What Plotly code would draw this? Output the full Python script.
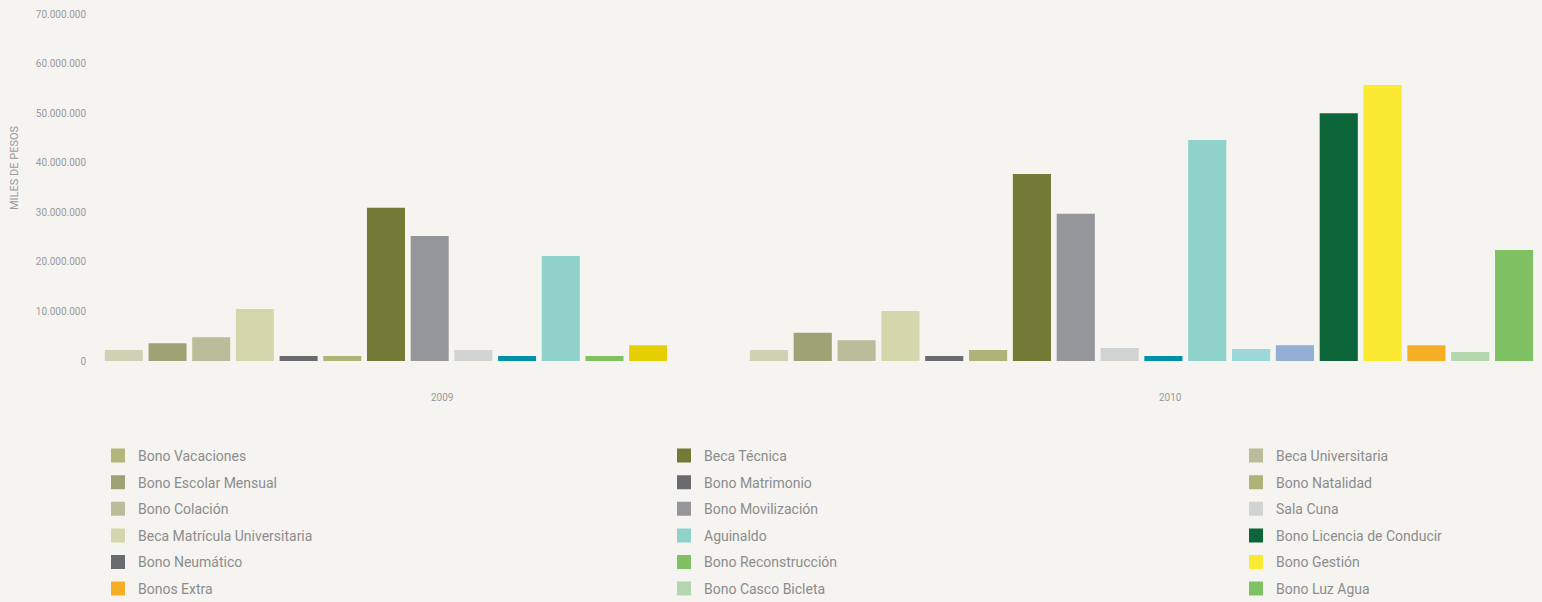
import plotly.graph_objects as go

# ---- data ----
years = ["2009", "2010"]

bars_2009 = ["Bono Vacaciones", "Bono Escolar Mensual", "Bono Colación", "Beca Matrícula Universitaria",
             "Bono Neumático", "Bono Natalidad", "Beca Técnica", "Bono Movilización", "Sala Cuna",
             "Bono Matrimonio", "Aguinaldo", "Bono Reconstrucción", "Bonos Extra"]
values_2009 = [2.2e6, 3.6e6, 4.8e6, 10.5e6, 1.0e6, 1.0e6, 30.9e6, 25.2e6, 2.2e6, 1.0e6, 21.2e6, 1.0e6, 3.2e6]
colors_2009 = ["#cfd0b4", "#9da374", "#b9bd9a", "#d4d7ac", "#6a6b6e", "#b0b378", "#727a35", "#959699",
               "#d1d2d2", "#0090a8", "#8fd2ca", "#7fc163", "#e6cf00"]

bars_2010 = ["Bono Vacaciones", "Bono Escolar Mensual", "Bono Colación", "Beca Matrícula Universitaria",
             "Bono Neumático", "Bono Natalidad", "Beca Técnica", "Bono Movilización", "Sala Cuna",
             "Bono Matrimonio", "Aguinaldo", "Beca Universitaria", "Bono Reconstrucción",
             "Bono Licencia de Conducir", "Bono Gestión", "Bonos Extra", "Bono Casco Bicleta", "Bono Luz Agua"]
values_2010 = [2.2e6, 5.7e6, 4.2e6, 10.1e6, 1.0e6, 2.2e6, 37.7e6, 29.7e6, 2.6e6, 1.0e6, 44.6e6, 2.4e6, 3.2e6,
               50.0e6, 55.7e6, 3.2e6, 1.8e6, 22.4e6]
colors_2010 = ["#cfd0b4", "#9da374", "#b9bd9a", "#d4d7ac", "#6a6b6e", "#b0b378", "#727a35", "#959699",
               "#d1d2d2", "#0090a8", "#8fd2ca", "#9cd8d9", "#93afd6", "#0d6639", "#faea32", "#f6ae24",
               "#b2d7af", "#7fc163"]

legend_col1 = ["Bono Vacaciones", "Bono Escolar Mensual", "Bono Colación", "Beca Matrícula Universitaria",
               "Bono Neumático", "Bonos Extra"]
legend_col1_colors = ["#b2b67a", "#9da374", "#b9bd9a", "#d4d7ac", "#6a6b6e", "#f6ae24"]
legend_col2 = ["Beca Técnica", "Bono Matrimonio", "Bono Movilización", "Aguinaldo",
               "Bono Reconstrucción", "Bono Casco Bicleta"]
legend_col2_colors = ["#727a35", "#6a6b6e", "#959699", "#8fd2ca", "#7fc163", "#b2d7af"]
legend_col3 = ["Beca Universitaria", "Bono Natalidad", "Sala Cuna", "Bono Licencia de Conducir",
               "Bono Gestión", "Bono Luz Agua"]
legend_col3_colors = ["#b9bd9a", "#b0b378", "#d1d2d2", "#0d6639", "#faea32", "#7fc163"]

y_ticks = [0, 10e6, 20e6, 30e6, 40e6, 50e6, 60e6, 70e6]

# ---- figure ----
BG = "#f5f4f0"
GREY = "#8c8c8c"
TICKGREY = "#9a9a9a"
FONT = "Roboto"
W, H = 1542, 602
ML, MR, MT, MB = 95, 6, 14, 241
PW, PH = W - ML - MR, H - MT - MB


def px_x(p):
    return (p - ML) / PW


def px_y(p):
    return (H - MB - p) / PH


fig = go.Figure()
fig.add_trace(go.Bar(x=bars_2009, y=values_2009, marker=dict(color=colors_2009, line=dict(width=0)),
                     xaxis="x", yaxis="y", showlegend=False, name="2009"))
fig.add_trace(go.Bar(x=bars_2010, y=values_2010, marker=dict(color=colors_2010, line=dict(width=0)),
                     xaxis="x2", yaxis="y", showlegend=False, name="2010"))

for leg, names, cols in [("legend", legend_col1, legend_col1_colors),
                         ("legend2", legend_col2, legend_col2_colors),
                         ("legend3", legend_col3, legend_col3_colors)]:
    for n, c in zip(names, cols):
        fig.add_trace(go.Bar(x=[None], y=[None], name=n, marker=dict(color=c, line=dict(color=c, width=2)),
                             legend=leg, legendgroup=n, showlegend=True, xaxis="x", yaxis="y"))

legend_common = dict(orientation="v", bgcolor="rgba(0,0,0,0)", font=dict(family=FONT, size=14, color=GREY),
                     tracegroupgap=5.4, yanchor="top", xanchor="left", y=px_y(440), traceorder="grouped")

fig.update_layout(
    width=W, height=H, autosize=False,
    paper_bgcolor=BG, plot_bgcolor=BG,
    margin=dict(l=ML, r=MR, t=MT, b=MB, autoexpand=False),
    separators=",.",
    bargap=0.13,
    font=dict(family=FONT, color=GREY),
    xaxis=dict(domain=[px_x(102), px_x(670)], showticklabels=False, showgrid=False, zeroline=False,
               showline=False, ticks="", anchor="y"),
    xaxis2=dict(domain=[px_x(747), 1.0], showticklabels=False, showgrid=False, zeroline=False,
                showline=False, ticks="", anchor="y"),
    yaxis=dict(range=[0, 70e6], tickvals=y_ticks, tickformat=",d", showgrid=False, zeroline=False,
               showline=False, ticks="", ticklabelstandoff=15,
               tickfont=dict(family=FONT, size=10, color=TICKGREY)),
    legend=dict(x=px_x(98), **legend_common),
    legend2=dict(x=px_x(664), **legend_common),
    legend3=dict(x=px_x(1236), **legend_common),
    annotations=[
        dict(text="MILES DE PESOS", textangle=-90, x=px_x(14), y=px_y(168), xref="paper", yref="paper",
             xanchor="center", yanchor="middle", showarrow=False,
             font=dict(family=FONT, size=11, color=TICKGREY)),
        dict(text=years[0], x=px_x(442), y=px_y(397), xref="paper", yref="paper",
             xanchor="center", yanchor="middle", showarrow=False,
             font=dict(family=FONT, size=10, color=TICKGREY)),
        dict(text=years[1], x=px_x(1170), y=px_y(397), xref="paper", yref="paper",
             xanchor="center", yanchor="middle", showarrow=False,
             font=dict(family=FONT, size=10, color=TICKGREY)),
    ],
)

fig.write_html("out.html", config={"displayModeBar": False},
               post_script="document.body.style.margin='0';document.body.style.overflow='hidden';")
